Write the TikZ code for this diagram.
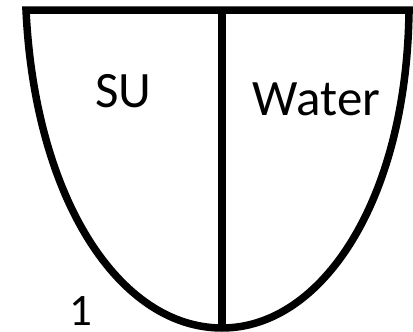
\documentclass[tikz,border=0pt]{standalone}
\usepackage{fontspec}
\setmainfont{Carlito}
\begin{document}
\begin{tikzpicture}[x=1pt,y=-1pt,
  wall/.style={line width=7.5pt, line join=miter},
  lbl/.style={inner sep=0pt, anchor=base, font=\fontsize{51}{51}\selectfont}]
\useasboundingbox (0,0) rectangle (413,332);
\coordinate (tr) at (415,10);
\coordinate (tl) at (26,10);
\coordinate (bot) at (222,328);
\coordinate (rtop) at (409,10);
\coordinate (mtop) at (222,10);
\draw[wall] (tr) -- (tl) .. controls (35,200) and (120,328) .. (bot)
  .. controls (322,328) and (407,200) .. (rtop);
\draw[wall, line width=8pt] (mtop) -- (bot);
\node[lbl] (su) at (123.5,107) {SU};
\node[lbl] (water) at (316.5,115) {Water};
\node[lbl, font=\fontsize{45}{45}\selectfont] (one) at (81,325) {1};
\end{tikzpicture}
\end{document}
